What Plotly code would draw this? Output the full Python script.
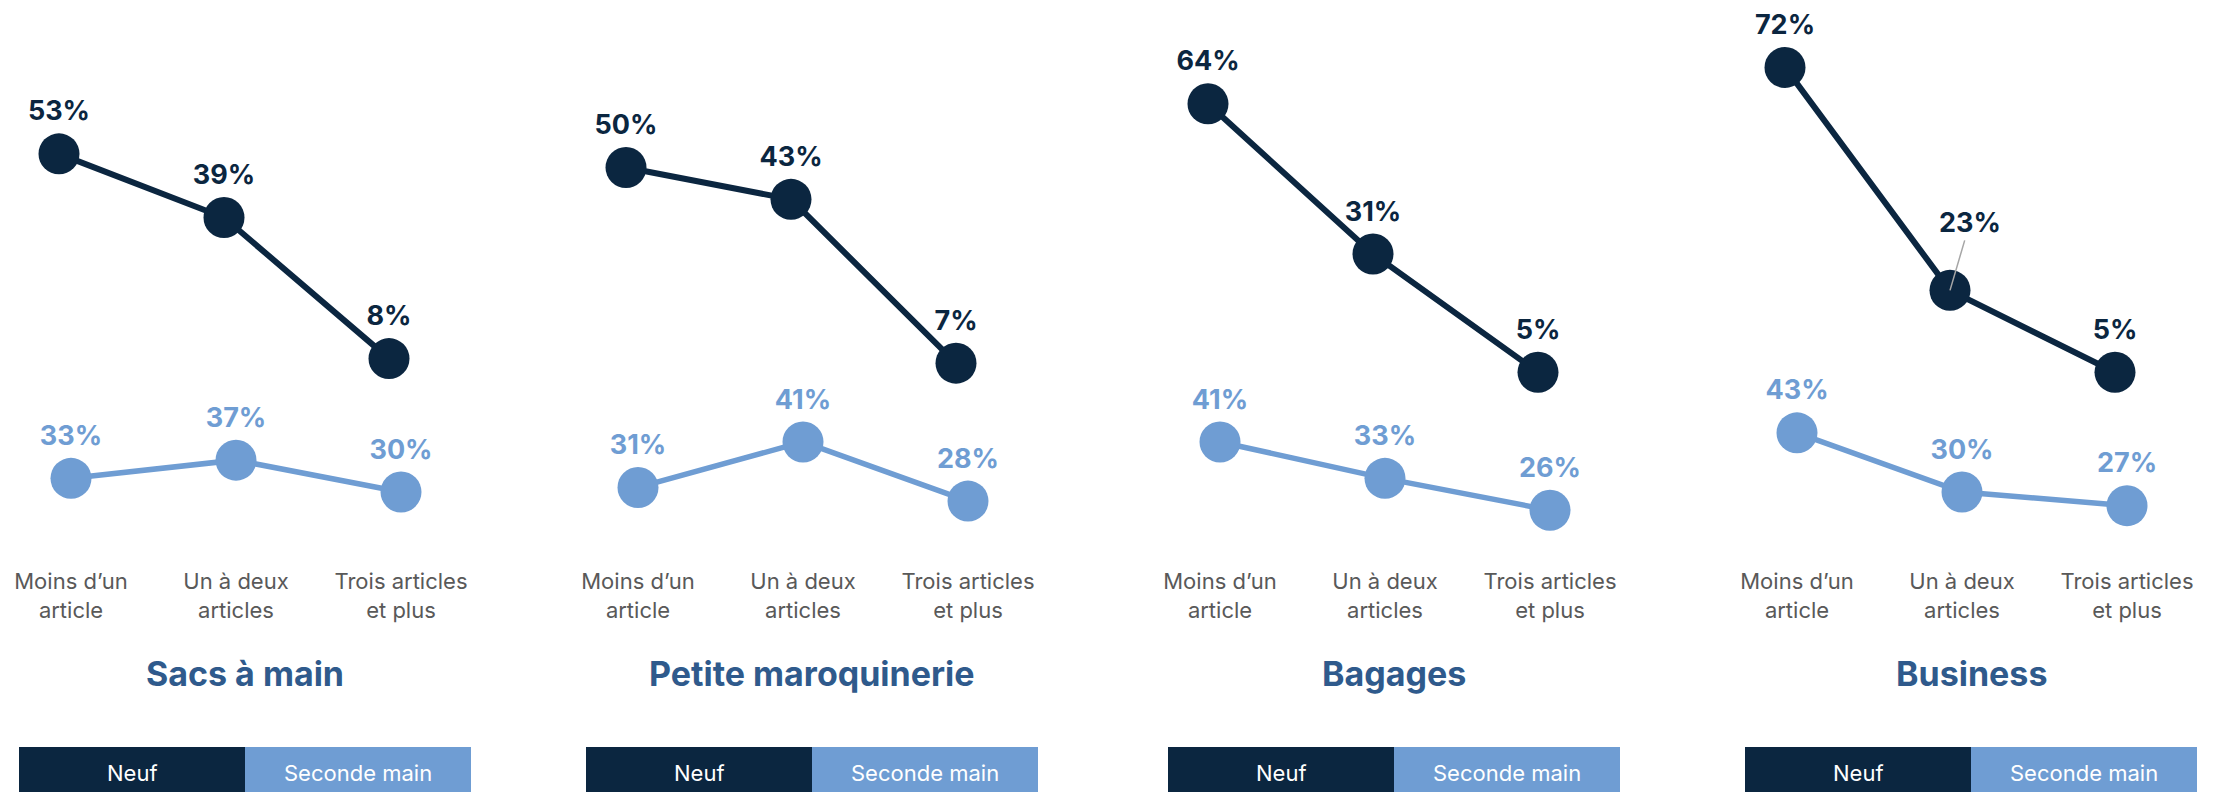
import plotly.graph_objects as go

# Data
categories = ["Moins d’un<br>article", "Un à deux<br>articles", "Trois articles<br>et plus"]
panels = ["Sacs à main", "Petite maroquinerie", "Bagages", "Business"]
neuf = [
    [53, 39, 8],
    [50, 43, 7],
    [64, 31, 5],
    [72, 23, 5],
]
seconde_main = [
    [33, 37, 30],
    [31, 41, 28],
    [41, 33, 26],
    [43, 30, 27],
]
series_names = ["Neuf", "Seconde main"]

DARK = "#0b2640"
LIGHT = "#6f9dd3"
TITLE = "#2f5a8c"
GREY = "#595959"
FONT = "Inter, Roboto, Open Sans, sans-serif"

W, H = 2233, 792
MARGIN = 8   # default body margin of the html page


def px(x):
    # window pixel -> paper x
    return (x - MARGIN) / (W - MARGIN)


def py(y):
    # window pixel -> paper y
    return 1 - (y - MARGIN) / (H - MARGIN)


centers = [245, 812, 1394, 1971]   # pixel centre of each panel
half = 230                          # half width of each panel's x domain
step = 165                          # px between categories
plot_bottom = 566                   # window px where the axis domain ends

ydom = [py(plot_bottom), 1]
# same scale for both series, the light one is shifted down
px_per_pct = 4.55
dark_zero, light_zero = 395, 628.5
dark_range = [(dark_zero - plot_bottom) / px_per_pct, (dark_zero - MARGIN) / px_per_pct]
light_range = [(light_zero - plot_bottom) / px_per_pct, (light_zero - MARGIN) / px_per_pct]

fig = go.Figure()
layout = {}
shapes = []
annotations = []

for p, name in enumerate(panels):
    c = centers[p]
    xdom = [px(c - half), px(c + half)]
    for s, (vals, color, mid_off) in enumerate(
            [(seconde_main[p], LIGHT, -9), (neuf[p], DARK, -21)]):
        k = p * 2 + s + 1
        xa = "x" if k == 1 else f"x{k}"
        ya = "y" if k == 1 else f"y{k}"
        xkey = "xaxis" if k == 1 else f"xaxis{k}"
        ykey = "yaxis" if k == 1 else f"yaxis{k}"
        is_dark = color == DARK
        texts = [f"{v}%" for v in vals]
        if name == "Business" and is_dark:
            texts[1] = ""
        fig.add_trace(go.Scatter(
            x=categories, y=vals, xaxis=xa, yaxis=ya,
            mode="lines+markers+text",
            line=dict(color=color, width=6 if is_dark else 5.5),
            marker=dict(color=color, size=41),
            text=texts, textposition="top center",
            textfont=dict(family=FONT, size=27, color=color, weight="bold"),
            cliponaxis=False, showlegend=False,
            name=series_names[0] if is_dark else series_names[1],
        ))
        r0 = 1 + (-half - mid_off) / step
        r1 = 1 + (half - mid_off) / step
        layout[xkey] = dict(
            domain=xdom, anchor=ya, type="category",
            categoryorder="array", categoryarray=categories,
            range=[r0, r1], showgrid=False, zeroline=False, showline=False,
            ticks="", showticklabels=not is_dark,
            tickfont=dict(family=FONT, size=22, color=GREY),
        )
        layout[ykey] = dict(
            domain=ydom, anchor=xa,
            range=dark_range if is_dark else light_range,
            visible=False, showgrid=False, zeroline=False,
        )
        if name == "Business" and is_dark:
            annotations.append(dict(
                x=categories[1], y=vals[1], xref=xa, yref=ya,
                text=f"<b>{vals[1]}%</b>", showarrow=True, arrowhead=0,
                arrowwidth=1.5, arrowcolor="#a6a6a6", ax=20, ay=-68,
                standoff=0, startstandoff=0,
                font=dict(family=FONT, size=27, color=DARK),
            ))

    # panel title
    annotations.append(dict(
        x=px(c), y=py(673), xref="paper", yref="paper",
        xanchor="center", yanchor="middle",
        text=f"<b>{name}</b>", showarrow=False,
        font=dict(family=FONT, size=34, color=TITLE),
    ))
    # custom legend boxes
    for j, (label, color) in enumerate([(series_names[0], DARK), (series_names[1], LIGHT)]):
        x0 = c - 226 + j * 226
        shapes.append(dict(
            type="rect", xref="paper", yref="paper",
            x0=px(x0), x1=px(x0 + 226), y0=-0.05, y1=py(747),
            fillcolor=color, line=dict(width=0), layer="below",
        ))
        annotations.append(dict(
            x=px(x0 + 113), y=py(773), xref="paper", yref="paper",
            xanchor="center", yanchor="middle",
            text=label, showarrow=False,
            font=dict(family=FONT, size=22, color="white"),
        ))

fig.update_layout(
    **layout,
    width=W - MARGIN, height=H - MARGIN,
    margin=dict(l=0, r=0, t=0, b=0),
    paper_bgcolor="white", plot_bgcolor="rgba(0,0,0,0)",
    shapes=shapes, annotations=annotations,
    showlegend=False,
)

fig.write_html("out.html")
